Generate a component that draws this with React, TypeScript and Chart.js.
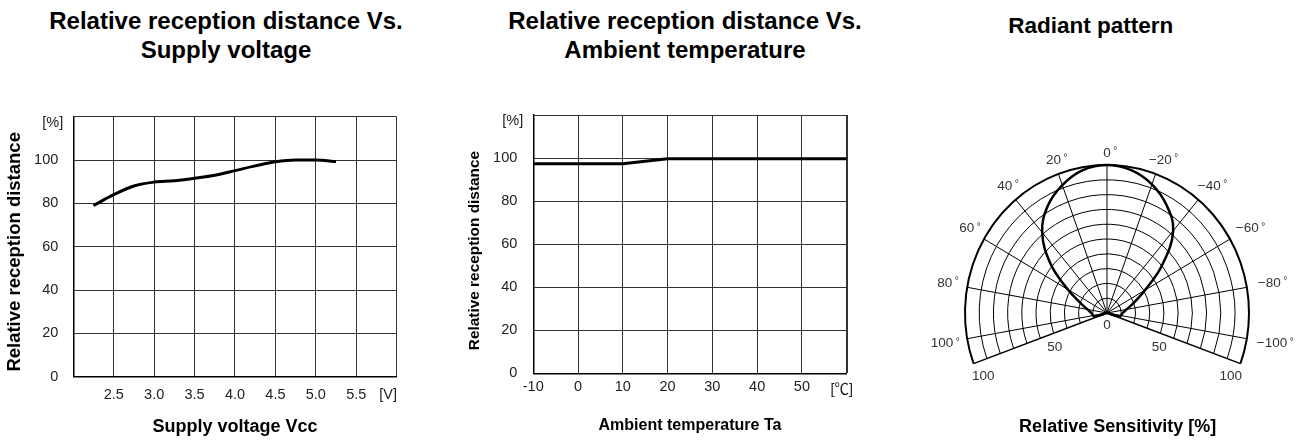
import React, { useEffect, useRef } from 'react';
import { Chart, registerables } from 'chart.js';

Chart.register(...registerables);

const FONT = '"Liberation Sans", Arial, "Noto Sans CJK KR", sans-serif';

// ---------- Chart 1: Supply voltage ----------
const voltageTitle = ['Relative reception distance Vs.', 'Supply voltage'];
const voltageXTitle = 'Supply voltage Vcc';
const voltageYTitle = 'Relative reception distance';
const supplyVoltage = [2.25, 2.5, 2.75, 3.0, 3.25, 3.5, 3.75, 4.0, 4.25, 4.5, 4.75, 5.0, 5.25];
const voltageDistance = [79, 84, 88, 89.8, 90.4, 91.6, 93, 95.1, 97.3, 99.2, 100, 100, 99.3];
const voltageXRange = [2, 6];
const voltageXStep = 0.5;
const voltageUnitX = '[V]';

// ---------- Chart 2: Ambient temperature ----------
const tempTitle = ['Relative reception distance Vs.', 'Ambient temperature'];
const tempXTitle = 'Ambient temperature Ta';
const tempYTitle = 'Relative reception distance';
const ambientTemp = [-10, 0, 10, 20, 30, 40, 50, 60];
const tempDistance = [97.3, 97.3, 97.3, 99.7, 99.7, 99.7, 99.7, 99.7];
const tempXRange = [-10, 60];
const tempXStep = 10;
const tempUnitX = '[℃]';

// shared y axis
const distanceRange = [0, 120];
const distanceStep = 20;
const unitY = '[%]';

// ---------- Chart 3: Radiant pattern ----------
const patternTitle = 'Radiant pattern';
const patternXTitle = 'Relative Sensitivity [%]';
const patternAngles = [-110, -105, -100, -90, -80, -70, -60, -50, -40, -30, -20, -10, 0, 10, 20, 30, 40, 50, 60, 70, 80, 90, 100, 105, 110];
const patternSensitivity = [0, 8, 10, 11, 14, 20, 31, 51, 72.5, 84, 92.5, 98, 100, 98, 92, 83.5, 71, 52, 32, 20, 14, 11, 10, 8, 0];
const ringRadii = [10, 20, 30, 40, 50, 60, 70, 80, 90, 100];
const spokeAngles = [-110, -100, -80, -60, -40, -20, 0, 20, 40, 60, 80, 100, 110];
const angleLabels = [100, 80, 60, 40, 20, 0, -20, -40, -60, -80, -100];
const ringLabels = [50, 100];

const TICK_COLOR = '#222';

function unitPlugin(yText: string, xText: string, xValue: number, xOffset: number) {
  return {
    id: 'units',
    afterDraw(chart: any) {
      const { ctx, chartArea, scales } = chart;
      ctx.save();
      ctx.font = `14.5px ${FONT}`;
      ctx.fillStyle = TICK_COLOR;
      ctx.textBaseline = 'middle';
      ctx.textAlign = 'right';
      ctx.fillText(yText, chartArea.left - 10, scales.y.getPixelForValue(117));
      ctx.textAlign = 'center';
      ctx.fillText(xText, scales.x.getPixelForValue(xValue), chartArea.bottom + xOffset);
      ctx.restore();
    },
  };
}

function lineConfig(opts: any): any {
  return {
    type: 'line',
    data: {
      datasets: [
        {
          data: opts.xs.map((x: number, i: number) => ({ x, y: opts.ys[i] })),
          borderColor: '#000',
          borderWidth: 3,
          pointRadius: 0,
          fill: false,
          cubicInterpolationMode: opts.smooth ? 'monotone' : 'default',
          tension: 0,
        },
      ],
    },
    options: {
      animation: false,
      responsive: true,
      maintainAspectRatio: false,
      layout: { padding: opts.padding },
      plugins: { legend: { display: false }, tooltip: { enabled: false }, title: { display: false } },
      scales: {
        x: {
          type: 'linear',
          min: opts.xRange[0],
          max: opts.xRange[1],
          grid: { color: '#333', lineWidth: opts.xGridWidth || 1, drawTicks: false },
          border: { color: '#000', width: 1.5 },
          ticks: {
            stepSize: opts.xStep,
            padding: opts.xTickPad,
            autoSkip: false,
            maxRotation: 0,
            color: TICK_COLOR,
            font: { size: 14.5, family: FONT },
            callback: opts.xCallback,
          },
          title: {
            display: true,
            text: opts.xTitle,
            color: '#000',
            font: { size: opts.xTitleSize, weight: 'bold', family: FONT },
            padding: opts.xTitlePad,
          },
        },
        y: {
          type: 'linear',
          min: distanceRange[0],
          max: distanceRange[1],
          grid: { color: '#333', lineWidth: 1, drawTicks: false },
          border: { color: '#000', width: 1.5 },
          ticks: {
            stepSize: distanceStep,
            padding: opts.yTickPad,
            color: TICK_COLOR,
            font: { size: 14.5, family: FONT },
            callback: (v: number) => (v === distanceRange[1] ? '' : String(v)),
          },
          title: {
            display: true,
            text: opts.yTitle + opts.yTitleShift,
            color: '#000',
            font: { size: opts.yTitleSize, weight: 'bold', family: FONT },
            padding: opts.yTitlePad,
          },
        },
      },
    },
    plugins: [unitPlugin(unitY, opts.unitX, opts.unitXValue, opts.unitXOffset)],
  };
}

const polarPlugin = {
  id: 'polarGrid',
  beforeDatasetsDraw(chart: any) {
    const { ctx, scales } = chart;
    const { x, y } = scales;
    const cx = x.getPixelForValue(0);
    const cy = y.getPixelForValue(0);
    const toPx = (r: number, deg: number) => {
      const t = (deg * Math.PI) / 180;
      return [x.getPixelForValue(-r * Math.sin(t)), y.getPixelForValue(r * Math.cos(t))];
    };
    const maxA = spokeAngles[spokeAngles.length - 1];
    ctx.save();
    ctx.strokeStyle = '#000';
    for (const r of ringRadii) {
      const rx = x.getPixelForValue(r) - cx;
      const ry = cy - y.getPixelForValue(r);
      ctx.lineWidth = r === 100 ? 2 : 1;
      ctx.beginPath();
      ctx.ellipse(cx, cy, rx, ry, 0, ((-90 - maxA) * Math.PI) / 180, ((-90 + maxA) * Math.PI) / 180, false);
      ctx.stroke();
    }
    for (const a of spokeAngles) {
      const [px, py] = toPx(100, a);
      ctx.lineWidth = Math.abs(a) === maxA ? 1.5 : 1;
      ctx.beginPath();
      ctx.moveTo(cx, cy);
      ctx.lineTo(px, py);
      ctx.stroke();
    }
    ctx.restore();
  },
  afterDraw(chart: any) {
    const { ctx, scales } = chart;
    const { x, y } = scales;
    const toPx = (r: number, deg: number) => {
      const t = (deg * Math.PI) / 180;
      return [x.getPixelForValue(-r * Math.sin(t)), y.getPixelForValue(r * Math.cos(t))];
    };
    ctx.save();
    ctx.fillStyle = '#333';
    for (const a of angleLabels) {
      const r = 108 + 0.1 * Math.abs(a);
      const [px, py] = toPx(r, a);
      const text = a < 0 ? `\u2212${-a}` : String(a);
      ctx.font = `13.5px ${FONT}`;
      ctx.textAlign = 'center';
      ctx.textBaseline = 'middle';
      ctx.fillText(text, px, py);
      const w = ctx.measureText(text).width;
      ctx.font = `10px ${FONT}`;
      ctx.textAlign = 'left';
      ctx.textBaseline = 'alphabetic';
      ctx.fillText('°', px + w / 2 + 2.5, py + 1.3);
    }
    ctx.font = `13.5px ${FONT}`;
    ctx.textAlign = 'center';
    ctx.textBaseline = 'middle';
    const [zx, zy] = toPx(8, 180);
    ctx.fillText('0', zx, zy);
    for (const v of ringLabels) {
      const rr = v * 1.07 - 10;
      const ang = 116 + (100 - v) / 8;
      for (const s of [1, -1]) {
        const [px, py] = toPx(rr, s * ang);
        ctx.fillText(String(v), px, py);
      }
    }
    ctx.restore();
  },
};

function polarConfig(): any {
  return {
    type: 'scatter',
    data: {
      datasets: [
        {
          data: patternAngles.map((deg, i) => {
            const t = (deg * Math.PI) / 180;
            const r = patternSensitivity[i];
            return { x: -r * Math.sin(t), y: r * Math.cos(t) };
          }),
          showLine: true,
          borderColor: '#000',
          borderWidth: 2.5,
          pointRadius: 0,
          tension: 0.4,
          fill: false,
        },
      ],
    },
    options: {
      animation: false,
      responsive: true,
      maintainAspectRatio: false,
      layout: { padding: { top: 142.8, right: 2.2, bottom: 0, left: 9.5 } },
      plugins: { legend: { display: false }, tooltip: { enabled: false } },
      scales: {
        x: {
          type: 'linear',
          min: -125,
          max: 140,
          grid: { display: false, drawTicks: false },
          border: { display: false },
          ticks: { display: false },
          title: {
            display: true,
            text: patternXTitle,
            color: '#000',
            font: { size: 18, weight: 'bold', family: FONT },
            padding: { top: 14.9, bottom: 2.7 },
          },
        },
        y: { type: 'linear', min: -60, max: 115, display: false },
      },
    },
    plugins: [polarPlugin],
  };
}

export default function App() {
  const c1 = useRef<HTMLCanvasElement>(null);
  const c2 = useRef<HTMLCanvasElement>(null);
  const c3 = useRef<HTMLCanvasElement>(null);

  useEffect(() => {
    const charts: Chart[] = [];
    charts.push(
      new Chart(
        c1.current!,
        lineConfig({
          xs: supplyVoltage,
          ys: voltageDistance,
          smooth: true,
          xRange: voltageXRange,
          xStep: voltageXStep,
          padding: { top: 116.7, right: 23.3, bottom: 0, left: 0 },
          xTickPad: 9.6,
          yTickPad: 15,
          xTitle: voltageXTitle,
          xTitleSize: 18,
          xTitlePad: { top: 2.9, bottom: 3.2 },
          yTitle: voltageYTitle,
          yTitleShift: '\u00a0\u00a0',
          yTitleSize: 18.5,
          yTitlePad: { top: 4, bottom: -7.1 },
          xCallback: (v: number) => (v <= voltageXRange[0] || v >= voltageXRange[1] ? '' : v.toFixed(1)),
          unitX: voltageUnitX,
          unitXValue: 5.895,
          unitXOffset: 18.3,
        })
      )
    );
    charts.push(
      new Chart(
        c2.current!,
        lineConfig({
          xs: ambientTemp,
          ys: tempDistance,
          smooth: false,
          xRange: tempXRange,
          xStep: tempXStep,
          padding: { top: 115, right: 23.3, bottom: 0, left: 32 },
          xTickPad: 4.7,
          yTickPad: 16,
          xTitle: tempXTitle,
          xTitleSize: 16,
          xTitlePad: { top: 16.3, bottom: 5.4 },
          yTitle: tempYTitle,
          yTitleShift: '\u00a0\u00a0\u00a0',
          yTitleSize: 15.4,
          yTitlePad: { top: 4, bottom: -7.4 },
          xGridWidth: (c: any) => (c.tick && c.tick.value === tempXRange[1] ? 2 : 1),
          xCallback: (v: number) => (v >= tempXRange[1] ? '' : String(v)),
          unitX: tempUnitX,
          unitXValue: 58.9,
          unitXOffset: 16.7,
        })
      )
    );
    charts.push(new Chart(c3.current!, polarConfig()));
    return () => charts.forEach((c) => c.destroy());
  }, []);

  const titleStyle: React.CSSProperties = {
    position: 'absolute',
    textAlign: 'center',
    font: `bold 24px/29px ${FONT}`,
    color: '#000',
    whiteSpace: 'nowrap',
  };

  return (
    <div style={{ position: 'absolute', left: 0, top: 0, width: 1308, height: 441, overflow: 'hidden', background: '#fff' }}>
      <div style={{ ...titleStyle, left: 0, top: 6, width: 452 }}>
        {voltageTitle[0]}
        <br />
        {voltageTitle[1]}
      </div>
      <div style={{ ...titleStyle, left: 435, top: 6, width: 500 }}>
        {tempTitle[0]}
        <br />
        {tempTitle[1]}
      </div>
      <div style={{ ...titleStyle, left: 940, top: 11, width: 301.4, font: `bold 22.5px/29px ${FONT}` }}>{patternTitle}</div>
      <div style={{ position: 'absolute', left: 0, top: 0, width: 420, height: 441 }}>
        <canvas ref={c1} />
      </div>
      <div style={{ position: 'absolute', left: 430, top: 0, width: 440, height: 441 }}>
        <canvas ref={c2} />
      </div>
      <div style={{ position: 'absolute', left: 920, top: 0, width: 388, height: 441 }}>
        <canvas ref={c3} />
      </div>
    </div>
  );
}
